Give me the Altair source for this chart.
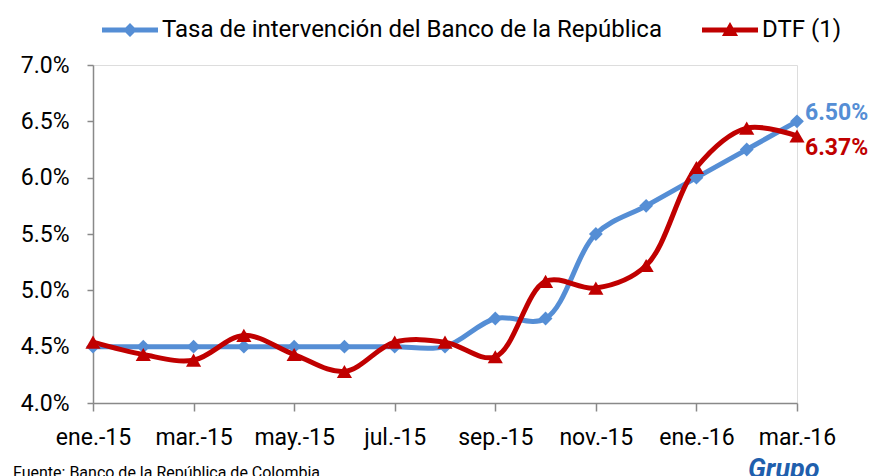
import altair as alt
import pandas as pd

months = ["ene.-15", "feb.-15", "mar.-15", "abr.-15", "may.-15", "jun.-15", "jul.-15",
          "ago.-15", "sep.-15", "oct.-15", "nov.-15", "dic.-15", "ene.-16", "feb.-16", "mar.-16"]
tasa = [4.50, 4.50, 4.50, 4.50, 4.50, 4.50, 4.50, 4.50, 4.75, 4.75, 5.50, 5.75, 6.00, 6.25, 6.50]
dtf = [4.54, 4.43, 4.38, 4.60, 4.43, 4.28, 4.54, 4.54, 4.41, 5.08, 5.02, 5.22, 6.09, 6.44, 6.37]
series_names = ["Tasa de intervención del Banco de la República", "DTF (1)"]
colors = ["#558ED5", "#C00000"]
end_labels = ["6.50%", "6.37%"]

FONT = "Roboto"

rows = []
for i, m in enumerate(months):
    rows.append({"i": i, "mes": m, "serie": series_names[0], "valor": tasa[i]})
    rows.append({"i": i, "mes": m, "serie": series_names[1], "valor": dtf[i]})
df = pd.DataFrame(rows)

last = pd.DataFrame({
    "i": [len(months) - 1] * 2,
    "valor": [tasa[-1], dtf[-1]],
    "serie": series_names,
    "txt": end_labels,
})

label_array = "[" + ",".join("'" + m + "'" for m in months) + "]"

x_enc = alt.X("i:Q",
              scale=alt.Scale(domain=[0, len(months) - 1], nice=False, zero=False),
              axis=alt.Axis(values=list(range(0, len(months), 2)),
                            labelExpr=label_array + "[datum.value]",
                            title=None, grid=False, domainColor="#898989",
                            tickColor="#898989", tickSize=8, domainWidth=1.5, tickWidth=1.5,
                            labelFont=FONT, labelFontSize=23, labelColor="#000000",
                            labelPadding=15, labelFlush=False))
y_enc = alt.Y("valor:Q",
              scale=alt.Scale(domain=[4.0, 7.0], nice=False, zero=False),
              axis=alt.Axis(values=[4.0, 4.5, 5.0, 5.5, 6.0, 6.5, 7.0],
                            labelExpr="format(datum.value, '.1f') + '%'",
                            title=None, grid=False, domainColor="#898989",
                            tickColor="#898989", tickSize=6, domainWidth=1.5, tickWidth=1.5,
                            labelFont=FONT, labelFontSize=23, labelColor="#000000",
                            labelPadding=18))

color_scale = alt.Scale(domain=series_names, range=colors)

legend_paths = [
    "M-4,-0.36L4,-0.36L4,0.36L-4,0.36Z M0,-1L1,0L0,1L-1,0Z",
    "M-4,-0.36L4,-0.36L4,0.36L-4,0.36Z M0,-1.15L1.15,0.85L-1.15,0.85Z",
]

legend_def = alt.Legend(orient="none", legendX=25, legendY=-47,
                        direction="horizontal", title=None,
                        symbolSize=196, labelFont=FONT,
                        labelFontSize=24, labelColor="#000000",
                        labelOffset=20, columnPadding=40, labelLimit=800,
                        symbolOpacity=1, symbolStrokeWidth=0)

legend_layer = alt.Chart(df).transform_filter(alt.datum.i == 0).mark_point(
    filled=True, opacity=0
).encode(
    x="i:Q", y="valor:Q",
    color=alt.Color("serie:N", scale=color_scale, legend=legend_def),
    shape=alt.Shape("serie:N", scale=alt.Scale(domain=series_names, range=legend_paths),
                    legend=legend_def),
)

lines = alt.Chart(df).mark_line(interpolate="catmull-rom", strokeWidth=5).encode(
    x=x_enc, y=y_enc,
    color=alt.Color("serie:N", scale=color_scale),
    detail="serie:N",
)

blue_pts = alt.Chart(df).transform_filter(
    alt.datum.serie == series_names[0]
).mark_point(shape="diamond", filled=True, size=190, opacity=1).encode(
    x="i:Q", y="valor:Q",
    color=alt.Color("serie:N", scale=color_scale),
)

red_pts = alt.Chart(df).transform_filter(
    alt.datum.serie == series_names[1]
).mark_point(shape="triangle-up", filled=True, size=230, opacity=1).encode(
    x="i:Q", y="valor:Q",
    color=alt.Color("serie:N", scale=color_scale),
)

blue_end = alt.Chart(last).transform_filter(
    alt.datum.serie == series_names[0]
).mark_text(
    align="left", baseline="middle", font=FONT, fontSize=23, fontWeight="bold", dx=8, dy=-8
).encode(
    x="i:Q", y="valor:Q", text="txt:N",
    color=alt.Color("serie:N", scale=color_scale),
)

red_end = alt.Chart(last).transform_filter(
    alt.datum.serie == series_names[1]
).mark_text(
    align="left", baseline="middle", font=FONT, fontSize=23, fontWeight="bold", dx=8, dy=12
).encode(
    x="i:Q", y="valor:Q", text="txt:N",
    color=alt.Color("serie:N", scale=color_scale),
)

footer = alt.Chart(pd.DataFrame({"t": ["Fuente: Banco de la República de Colombia"]})).mark_text(
    align="left", baseline="alphabetic", font=FONT, fontSize=16, color="#000000"
).encode(text="t:N", x=alt.value(-80), y=alt.value(413))

logo = alt.Chart(pd.DataFrame({"t": ["Grupo"]})).mark_text(
    align="left", baseline="alphabetic", font=FONT, fontSize=27, fontWeight="bold",
    fontStyle="italic", color="#1F5FAD"
).encode(text="t:N", x=alt.value(655), y=alt.value(413))

chart = alt.layer(legend_layer, lines, blue_pts, red_pts, blue_end, red_end, footer, logo).properties(
    width=704, height=338,
    autosize=alt.AutoSizeParams(type="none"),
    padding={"left": 85, "top": 57, "right": 89, "bottom": 73},
).configure_view(stroke=None).configure(background="#ffffff")

chart.save("out.html", embed_options={"renderer": "svg", "actions": False})
